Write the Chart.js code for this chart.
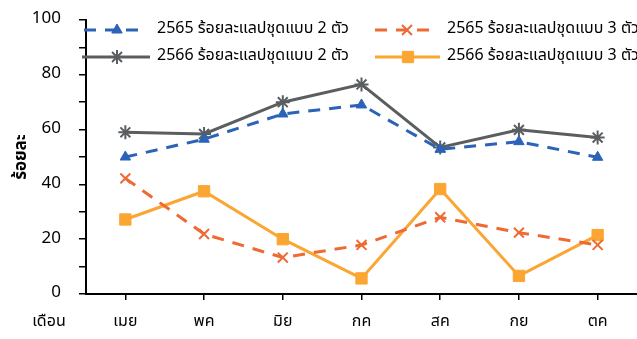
<!DOCTYPE html>
<html>
<head>
<meta charset="utf-8">
<script src="https://cdn.jsdelivr.net/npm/chart.js@4.4.1/dist/chart.umd.min.js"></script>
<style>
  html, body { margin: 0; padding: 0; background: #fff; }
  #c { display: block; }
</style>
</head>
<body>
<canvas id="c" width="637" height="339"></canvas>
<script>
// Month categories (Thai abbreviations)
const months = ['เมย', 'พค', 'มิย', 'กค', 'สค', 'กย', 'ตค'];

// Percentage series
const y2565set2 = [50.0, 56.5, 65.7, 69.0, 52.8, 55.6, 49.9];
const y2565set3 = [42.2, 21.9, 13.3, 17.9, 28.0, 22.4, 17.9];
const y2566set2 = [59.0, 58.4, 70.0, 76.5, 53.5, 59.9, 57.1];
const y2566set3 = [27.2, 37.5, 20.0, 5.7, 38.3, 6.6, 21.5];

const seriesNames = [
  '2565 ร้อยละแลปชุดแบบ 2 ตัว',
  '2565 ร้อยละแลปชุดแบบ 3 ตัว',
  '2566 ร้อยละแลปชุดแบบ 2 ตัว',
  '2566 ร้อยละแลปชุดแบบ 3 ตัว'
];

const yTickLabels = ['0', '20', '40', '60', '80', '100'];
const yTitle = 'ร้อยละ';
const xTitle = 'เดือน';

const FONT = '"Noto Sans Thai", "Leelawadee UI", Tahoma, "Noto Sans", "DejaVu Sans", sans-serif';

const BLUE = '#2a63b7';
const ORANGE = '#ee6a33';
const GRAY = '#5a5e60';
const YELLOW = '#fba632';

// Two-column legend drawn over the top of the plot
const legendPlugin = {
  id: 'gridLegend',
  afterDraw(chart) {
    const ctx = chart.ctx;
    const slots = [
      { x0: 84, x1: 140, mx: 117, tx: 157, y: 30 },
      { x0: 375, x1: 430, mx: 407, tx: 447, y: 30 },
      { x0: 82, x1: 150, mx: 117, tx: 157, y: 57 },
      { x0: 375, x1: 440, mx: 408, tx: 447, y: 57 }
    ];
    chart.data.datasets.forEach((ds, i) => {
      const s = slots[i];
      ctx.save();
      ctx.strokeStyle = ds.borderColor;
      ctx.lineWidth = ds.borderWidth;
      ctx.setLineDash(ds.borderDash || []);
      ctx.beginPath();
      ctx.moveTo(s.x0, s.y);
      ctx.lineTo(s.x1, s.y);
      ctx.stroke();
      ctx.setLineDash([]);
      ctx.fillStyle = ds.pointBackgroundColor;
      ctx.strokeStyle = ds.pointBorderColor;
      ctx.lineWidth = ds.pointBorderWidth;
      Chart.helpers.drawPoint(ctx, {
        pointStyle: ds.pointStyle,
        radius: ds.pointRadius,
        borderWidth: ds.pointBorderWidth,
        rotation: 0
      }, s.mx, s.y);
      ctx.fillStyle = '#000';
      ctx.font = '16px ' + FONT;
      ctx.textBaseline = 'middle';
      ctx.textAlign = 'left';
      ctx.fillText(ds.label, s.tx, s.y);
      ctx.restore();
    });
    // category axis caption on the tick-label row
    ctx.save();
    ctx.fillStyle = '#000';
    ctx.font = '16px ' + FONT;
    ctx.textAlign = 'center';
    ctx.textBaseline = 'middle';
    ctx.fillText(xTitle, 49, 323);
    ctx.restore();
  }
};

const mk = (label, data, color, dash, style, radius, bw) => ({
  label, data,
  borderColor: color,
  backgroundColor: color,
  borderWidth: 3,
  borderDash: dash,
  borderCapStyle: 'butt',
  pointStyle: style,
  pointRadius: radius,
  pointHoverRadius: radius,
  pointBackgroundColor: color,
  pointBorderColor: color,
  pointBorderWidth: bw,
  tension: 0,
  fill: false
});

new Chart(document.getElementById('c'), {
  type: 'line',
  data: {
    labels: months,
    datasets: [
      mk(seriesNames[0], y2565set2, BLUE, [12, 9], 'triangle', 6, 1),
      mk(seriesNames[1], y2565set3, ORANGE, [12, 9], 'crossRot', 7, 2),
      mk(seriesNames[2], y2566set2, GRAY, [], 'star', 7, 2),
      mk(seriesNames[3], y2566set3, YELLOW, [], 'rect', 8, 1)
    ]
  },
  options: {
    responsive: false,
    animation: false,
    devicePixelRatio: 1,
    layout: { autoPadding: false, padding: { top: 20, right: 0, bottom: 0, left: 0 } },
    plugins: {
      legend: { display: false },
      tooltip: { enabled: false }
    },
    scales: {
      x: {
        offset: true,
        border: { display: true, color: '#000', width: 2 },
        grid: { display: true, drawOnChartArea: false, drawTicks: true, tickLength: 6, color: '#000', lineWidth: 1.5, offset: false },
        ticks: { color: '#000', font: { family: FONT, size: 16 }, padding: 13, maxRotation: 0, autoSkip: false },
        afterFit: s => { s.height = 45; s.paddingLeft = 0; s.paddingRight = 0; }
      },
      y: {
        min: 0,
        max: 100,
        border: { display: true, color: '#000', width: 2 },
        grid: { display: true, drawOnChartArea: false, drawTicks: true, tickLength: 7, color: '#000', lineWidth: 1.5 },
        ticks: {
          stepSize: 10,
          color: '#000',
          font: { family: FONT, size: 17 },
          padding: 18,
          callback: v => (v % 20 === 0 ? yTickLabels[v / 20] : '')
        },
        title: { display: true, text: yTitle, color: '#000', font: { family: FONT, size: 17, weight: 'bold' }, padding: { top: 12, bottom: 0 } },
        afterFit: s => { s.width = 86; s.paddingTop = 0; s.paddingBottom = 0; }
      }
    }
  },
  plugins: [legendPlugin]
});
</script>
</body>
</html>
